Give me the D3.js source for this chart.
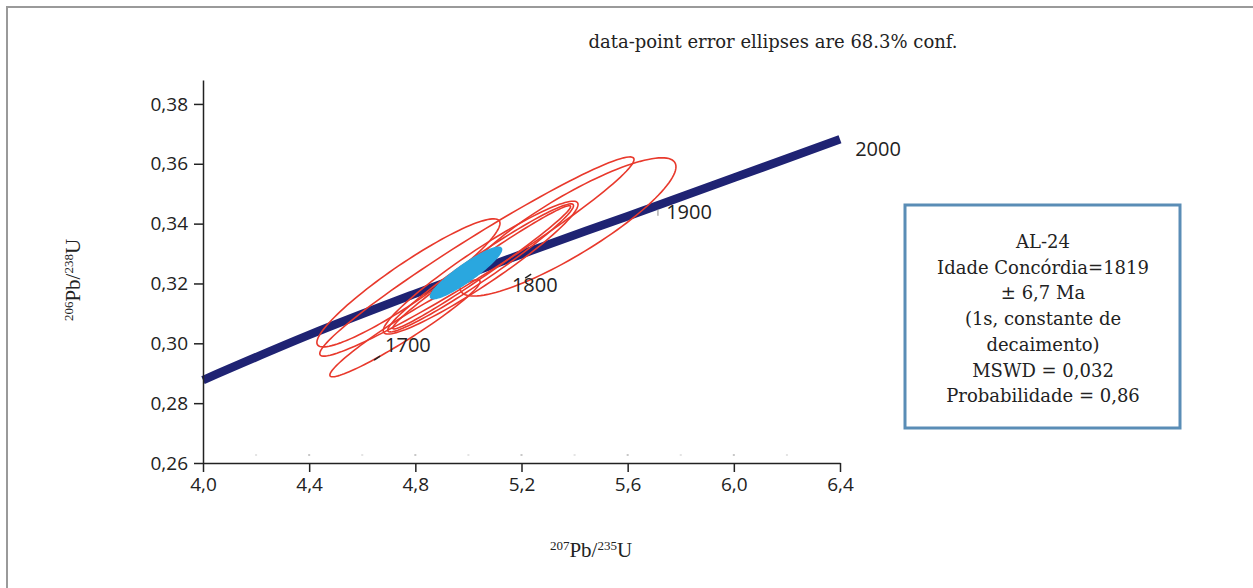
<!DOCTYPE html>
<html>
<head>
<meta charset="utf-8">
<script src="https://cdn.jsdelivr.net/npm/d3@7/dist/d3.min.js"></script>
<style>
  body { margin: 0; background: #fff; }
  .tick text { font-family: "Open Sans", sans-serif; font-size: 19px; fill: #222; }
  .slab { font-family: "DejaVu Serif", serif; fill: #222; }
</style>
</head>
<body>
<div class="canvas"></div>
<script>
// concordia curve points
const concX = [4.0, 4.4, 4.8, 5.2, 5.6, 6.0, 6.4];
const concY = [0.2877, 0.3028, 0.3166, 0.3298, 0.3425, 0.3553, 0.3682];

// age labels along the curve (text anchor positions)
const ages = ['1700', '1800', '1900', '2000'];
const ageX = [4.686, 5.164, 5.745, 6.457];
const ageY = [0.2971, 0.3172, 0.3416, 0.3626];
// little marks next to the age labels
const markX = [4.656, 5.225, 5.714];
const markY = [0.2954, 0.3228, 0.3436];

// data-point error ellipses: centre, sigma x, sigma y, correlation
const ellX   = [4.774, 5.375, 5.032, 5.046, 5.046, 5.050, 4.761];
const ellY   = [0.3202, 0.3389, 0.3290, 0.3253, 0.3252, 0.3254, 0.3050];
const ellSx  = [0.345, 0.407, 0.592, 0.367, 0.350, 0.335, 0.283];
const ellSy  = [0.0214, 0.0231, 0.0333, 0.0222, 0.0214, 0.0206, 0.0162];
const ellRho = [0.93, 0.87, 0.974, 0.95, 0.972, 0.985, 0.963];

// concordia age ellipse
const ageEll = {x: 4.991, y: 0.3235, sx: 0.134, sy: 0.0086, rho: 0.915};

const xTicks = [4.0, 4.4, 4.8, 5.2, 5.6, 6.0, 6.4];
const xMinor = [4.2, 4.4, 4.6, 4.8, 5.0, 5.2, 5.4, 5.6, 5.8, 6.0, 6.2];
const yTicks = [0.26, 0.28, 0.30, 0.32, 0.34, 0.36, 0.38];

const legendLines = ['AL-24', 'Idade Concórdia=1819', '± 6,7 Ma', '(1s, constante de',
  'decaimento)', 'MSWD = 0,032', 'Probabilidade = 0,86'];

const W = 1253, H = 588;
const fmt = d => d3.format(d >= 1 ? '.1f' : '.2f')(d).replace('.', ',');

const svg = d3.select('.canvas')
  .append('svg')
    .attr('width', W)
    .attr('height', H);

// outer frame (top + left only)
svg.append('path')
  .attr('d', `M7,${H} L7,7 L${W},7`)
  .attr('fill', 'none')
  .attr('stroke', '#9a9a9a')
  .attr('stroke-width', 2);

const x = d3.scaleLinear().domain([4.0, 6.4]).range([203, 840]);
const y = d3.scaleLinear().domain([0.26, 0.388]).range([463, 80]);

// ellipse outline from sigma/rho
const ellPts = (cx, cy, sx, sy, rho) => d3.range(0, 121).map(i => {
  const t = i / 120 * 2 * Math.PI;
  return [x(cx + sx * Math.cos(t)),
          y(cy + sy * (rho * Math.cos(t) + Math.sqrt(1 - rho * rho) * Math.sin(t)))];
});
const closed = d3.line().curve(d3.curveLinearClosed);

// minor grey marks above the x axis
svg.append('g').selectAll('rect')
  .data(xMinor)
  .enter().append('rect')
    .attr('x', d => x(d) - 1)
    .attr('y', 454)
    .attr('width', 2)
    .attr('height', 2)
    .attr('fill', (d, i) => i % 2 ? '#c8c8c8' : '#e4e4e4');

// concordia curve
const conc = concX.map((d, i) => [d, concY[i]]);
svg.append('path')
  .datum(conc)
  .attr('d', d3.line().x(d => x(d[0])).y(d => y(d[1])).curve(d3.curveMonotoneX))
  .attr('fill', 'none')
  .attr('stroke', '#1f2373')
  .attr('stroke-width', 8.5);

// red error ellipses
svg.append('g').selectAll('path')
  .data(ellX.map((d, i) => i))
  .enter().append('path')
    .attr('d', i => closed(ellPts(ellX[i], ellY[i], ellSx[i], ellSy[i], ellRho[i])))
    .attr('fill', 'none')
    .attr('stroke', '#e8392c')
    .attr('stroke-width', 1.6);

// blue concordia age ellipse
svg.append('path')
  .attr('d', closed(ellPts(ageEll.x, ageEll.y, ageEll.sx, ageEll.sy, ageEll.rho)))
  .attr('fill', '#2aa7df')
  .attr('stroke', '#2aa7df')
  .attr('stroke-width', 1.5);

// age marks + labels
svg.append('g').selectAll('line')
  .data(markX.map((d, i) => i))
  .enter().append('line')
    .attr('x1', i => x(markX[i]) - (i == 2 ? 0 : 3))
    .attr('x2', i => x(markX[i]) + (i == 2 ? 0 : 3))
    .attr('y1', i => y(markY[i]) + 3)
    .attr('y2', i => y(markY[i]) - (i == 2 ? 3 : 1))
    .attr('stroke', (d, i) => i == 2 ? '#b0b0b0' : '#222')
    .attr('stroke-width', 1.5);

svg.append('g').selectAll('text')
  .data(ages)
  .enter().append('text')
    .attr('x', (d, i) => x(ageX[i]))
    .attr('y', (d, i) => y(ageY[i]))
    .attr('font-family', 'Open Sans, sans-serif')
    .attr('font-size', 20)
    .attr('fill', '#222')
    .text(d => d);

// axes
svg.append('g')
  .attr('transform', 'translate(0,463)')
  .call(d3.axisBottom(x).tickValues(xTicks).tickFormat(fmt).tickSize(9).tickPadding(6).tickSizeOuter(0));
svg.append('g')
  .attr('transform', 'translate(203,0)')
  .call(d3.axisLeft(y).tickValues(yTicks).tickFormat(fmt).tickSize(9).tickPadding(6).tickSizeOuter(0));
svg.selectAll('.domain, .tick line').attr('stroke', '#222').attr('stroke-width', 1.5);

// axis titles
const yTitle = svg.append('text')
  .attr('transform', 'translate(80,280) rotate(-90)')
  .attr('text-anchor', 'middle')
  .attr('font-family', 'Liberation Serif, serif')
  .attr('font-size', 21)
  .attr('fill', '#222');
yTitle.append('tspan').attr('font-size', 13).attr('dy', -7).text('206');
yTitle.append('tspan').attr('dy', 7).text('Pb/');
yTitle.append('tspan').attr('font-size', 13).attr('dy', -7).text('238');
yTitle.append('tspan').attr('dy', 7).text('U');

const xTitle = svg.append('text')
  .attr('x', 591)
  .attr('y', 557)
  .attr('text-anchor', 'middle')
  .attr('font-family', 'Liberation Serif, serif')
  .attr('font-size', 21)
  .attr('fill', '#222');
xTitle.append('tspan').attr('font-size', 13).attr('dy', -7).text('207');
xTitle.append('tspan').attr('dy', 7).text('Pb/');
xTitle.append('tspan').attr('font-size', 13).attr('dy', -7).text('235');
xTitle.append('tspan').attr('dy', 7).text('U');

// top note
svg.append('text')
  .attr('class', 'slab')
  .attr('x', 773)
  .attr('y', 48)
  .attr('text-anchor', 'middle')
  .attr('font-size', 18)
  .text('data-point error ellipses are 68.3% conf.');

// legend box
svg.append('rect')
  .attr('x', 905).attr('y', 205)
  .attr('width', 275).attr('height', 223)
  .attr('fill', '#fff')
  .attr('stroke', '#5a8db6')
  .attr('stroke-width', 3);

svg.append('g').selectAll('text')
  .data(legendLines)
  .enter().append('text')
    .attr('class', 'slab')
    .attr('x', 1043)
    .attr('y', (d, i) => 248 + i * 25.7)
    .attr('text-anchor', 'middle')
    .attr('font-size', 18)
    .text(d => d);
</script>
</body>
</html>
